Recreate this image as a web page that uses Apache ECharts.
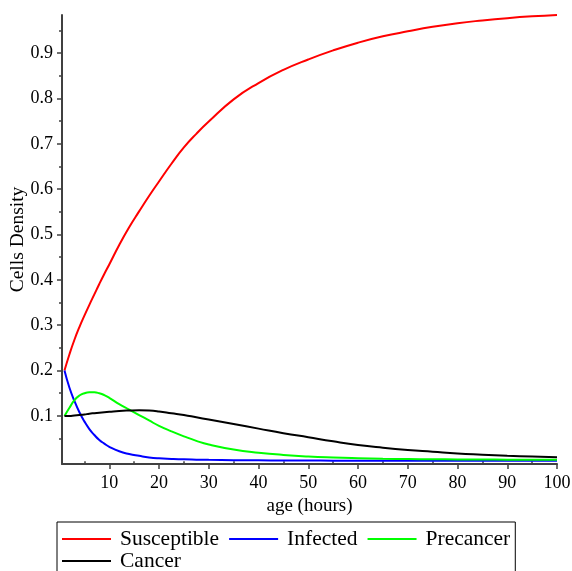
<!DOCTYPE html>
<html>
<head>
<meta charset="utf-8">
<script src="https://cdn.jsdelivr.net/npm/echarts@6/dist/echarts.min.js"></script>
<style>
  html, body { margin: 0; padding: 0; background: #fff; }
  #chart { width: 572px; height: 571px; }
</style>
</head>
<body>
<div id="chart"></div>
<script>
// time points (hours)
var ages = [1, 2, 3, 4, 5, 6, 7, 8, 9, 10, 12, 14, 16, 18, 20, 22.5, 25, 27.5, 30,
            35, 40, 45, 50, 55, 60, 65, 70, 75, 80, 85, 90, 95, 100];

var susceptible = [0.200, 0.236, 0.268, 0.296, 0.321, 0.345, 0.368, 0.391, 0.413, 0.434,
                   0.477, 0.516, 0.551, 0.585, 0.617, 0.656, 0.692, 0.722, 0.749,
                   0.798, 0.834, 0.863, 0.886, 0.906, 0.923, 0.937, 0.948, 0.958,
                   0.966, 0.972, 0.977, 0.981, 0.984];

var infected = [0.200, 0.162, 0.133, 0.108, 0.088, 0.071, 0.058, 0.047, 0.039, 0.032,
                0.022, 0.016, 0.012, 0.0085, 0.0065, 0.0052, 0.0042, 0.0036, 0.0031,
                0.0025, 0.0021, 0.0018, 0.0016, 0.0014, 0.0013, 0.0012, 0.0011, 0.0011,
                0.001, 0.001, 0.001, 0.001, 0.001];

var precancer = [0.100, 0.118, 0.135, 0.145, 0.150, 0.152, 0.152, 0.150, 0.146, 0.140,
                 0.126, 0.114, 0.102, 0.090, 0.078, 0.066, 0.055, 0.045, 0.037,
                 0.026, 0.019, 0.014, 0.0105, 0.0083, 0.0068, 0.0057, 0.005, 0.0045,
                 0.0041, 0.0038, 0.0036, 0.0035, 0.0035];

var cancer = [0.100, 0.100, 0.101, 0.102, 0.103, 0.105, 0.106, 0.107, 0.108, 0.109,
              0.111, 0.112, 0.1125, 0.112, 0.110, 0.106, 0.102, 0.097, 0.092,
              0.082, 0.072, 0.062, 0.053, 0.044, 0.036, 0.030, 0.025, 0.021,
              0.017, 0.0145, 0.0123, 0.0104, 0.0088];

var xMajor = [10, 20, 30, 40, 50, 60, 70, 80, 90, 100];
var xMinor = [5, 15, 25, 35, 45, 55, 65, 75, 85, 95];
var yMajor = [0.1, 0.2, 0.3, 0.4, 0.5, 0.6, 0.7, 0.8, 0.9];
var yMinor = [0.05, 0.15, 0.25, 0.35, 0.45, 0.55, 0.65, 0.75, 0.85, 0.95];

var seriesNames = ['Susceptible', 'Infected', 'Precancer', 'Cancer'];
var seriesColors = ['#ff0000', '#0000ff', '#00ff00', '#000000'];
var seriesValues = [susceptible, infected, precancer, cancer];

var serif = '"Liberation Serif", "DejaVu Serif", serif';
var axisColor = '#404040';

function pairs(values) {
  return ages.map(function (t, i) { return [t, values[i]]; });
}

var chart = echarts.init(document.getElementById('chart'));

var series = seriesNames.map(function (name, k) {
  return {
    name: name,
    type: 'line',
    data: pairs(seriesValues[k]),
    showSymbol: false,
    symbol: 'none',
    smooth: true,
    color: seriesColors[k],
    lineStyle: { color: seriesColors[k], width: 2 },
    emphasis: { disabled: true }
  };
});

var legendText = {
  fontFamily: serif,
  fontSize: 21.5,
  color: '#000',
  padding: [0, 0, 0, 4]
};

chart.setOption({
  animation: false,
  backgroundColor: '#fff',
  grid: { left: 62, right: 15, top: 15, bottom: 107, outerBoundsMode: 'none', containLabel: false },
  // the legend wraps on two rows; first row carries the frame
  legend: [{
    left: 57,
    top: 522,
    padding: [6, 5, 40, 5],
    itemGap: 10,
    itemWidth: 49,
    itemHeight: 2,
    icon: 'rect',
    borderColor: '#000',
    borderWidth: 1,
    borderRadius: 0,
    textStyle: legendText,
    data: seriesNames.slice(0, 3)
  }, {
    left: 62,
    top: 550,
    padding: 0,
    itemWidth: 49,
    itemHeight: 2,
    icon: 'rect',
    textStyle: legendText,
    data: seriesNames.slice(3)
  }],
  xAxis: [{
    type: 'value',
    min: 0.5,
    max: 100,
    name: 'age (hours)',
    nameLocation: 'middle',
    nameGap: 33,
    nameMoveOverlap: false,
    nameTextStyle: { fontFamily: serif, fontSize: 19, color: '#000' },
    axisLine: { show: true, onZero: false, lineStyle: { color: axisColor, width: 2 } },
    axisTick: { show: true, customValues: xMajor, length: 5, lineStyle: { color: axisColor, width: 1.5 } },
    axisLabel: { customValues: xMajor, margin: 10, fontFamily: serif, fontSize: 18, color: '#000' },
    splitLine: { show: false }
  }, {
    type: 'value',
    min: 0.5,
    max: 100,
    position: 'bottom',
    axisLine: { show: false },
    axisTick: { show: true, customValues: xMinor, length: 3, lineStyle: { color: axisColor, width: 1.5 } },
    axisLabel: { show: false },
    splitLine: { show: false }
  }],
  yAxis: [{
    type: 'value',
    min: -0.006,
    max: 0.984,
    name: 'Cells Density',
    nameLocation: 'middle',
    nameRotate: 90,
    nameGap: 34,
    nameMoveOverlap: false,
    nameTextStyle: { fontFamily: serif, fontSize: 19.5, color: '#000' },
    axisLine: { show: true, onZero: false, lineStyle: { color: axisColor, width: 2 } },
    axisTick: { show: true, customValues: yMajor, length: 5, lineStyle: { color: axisColor, width: 1.5 } },
    axisLabel: { customValues: yMajor, margin: 9, fontFamily: serif, fontSize: 18, color: '#000' },
    splitLine: { show: false }
  }, {
    type: 'value',
    min: -0.006,
    max: 0.984,
    position: 'left',
    axisLine: { show: false },
    axisTick: { show: true, customValues: yMinor, length: 3, lineStyle: { color: axisColor, width: 1.5 } },
    axisLabel: { show: false },
    splitLine: { show: false }
  }],
  series: series
});
</script>
</body>
</html>
